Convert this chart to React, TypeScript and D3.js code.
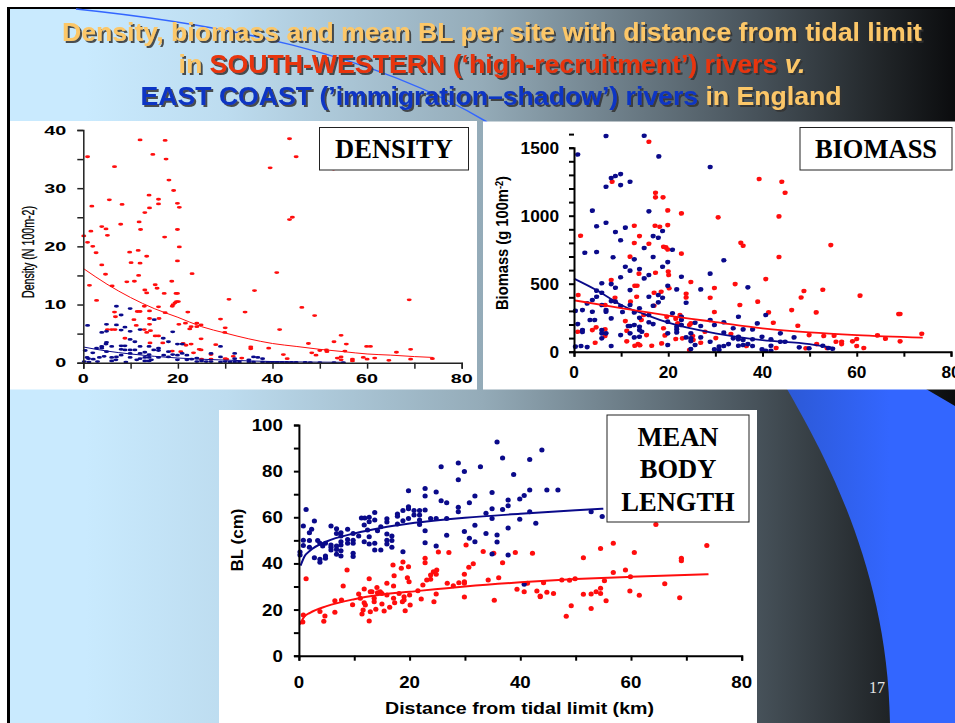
import * as d3 from "d3";
import { useEffect, useRef } from "react";

type Pt = [number, number];

const xTicks = [0, 10, 20, 30, 40, 50, 60, 70, 80];
const xLabels = [0, 20, 40, 60, 80];
const densityTicks = [0, 5, 10, 15, 20, 25, 30, 35, 40];
const densityLabels = [0, 10, 20, 30, 40];
const biomassTicks = d3.range(0, 1601, 100);
const biomassLabels = [0, 500, 1000, 1500];
const lengthTicks = [0, 10, 20, 30, 40, 50, 60, 70, 80, 90, 100];
const lengthLabels = [0, 20, 40, 60, 80, 100];

// values: [distance km, value]
const densityRed: Pt[] = [
  [0.1,21.8],[0.9,35.4],[0.9,20.7],[1.3,13.3],[1.8,26.9],[1.6,22.6],[2,20],[2.7,18.9],[2.8,10.7],[3.9,23.4],[3.9,16.8],[4.8,23],[4.7,15.2],[5.1,21.9],[5.5,28],[6.1,13.2],[6.6,33.7],[6.6,8.7],[6.8,7.9],[5.1,5.7],[6,5.7],[6.7,5.7],[7.9,23.8],[8.2,27.2],[8.8,4.2],[9.2,13.9],[9.8,19],[10.1,17.2],[10.8,14],[10.7,7.4],[11.2,6.4],[11.6,19.3],[11.7,15],[11.8,24.2],[12,38.3],[12.1,22.9],[12,17.1],[11.4,8.8],[12,8.8],[13,25.8],[13,12.5],[13.4,12],[13.4,18.3],[12.9,5.7],[13.4,5.2],[12.9,9.7],[13.9,28.8],[14,26.6],[14,8.9],[14,7.6],[14,6.6],[14.2,5.5],[14.1,3.4],[14.7,35.8],[15.2,13.4],[15.6,12.8],[15.2,4.6],[15.9,4.6],[15.9,28.1],[15.9,27.3],[15.9,9.6],[16,7.6],[16.8,3.4],[17.1,11.9],[17.2,21.6],[17.3,38.2],[17.5,35],[17.3,8.6],[18.1,31.4],[18.7,14],[19.1,29.6],[18.8,9.7],[19,10],[19.4,10.3],[19.7,10.5],[20.1,10.5],[19.6,11.9],[19.9,11.9],[19.9,27.4],[19.9,22.9],[20.3,26.7],[20.3,19.9],[19.9,17.5],[20.2,6.6],[20.6,1.9],[18.8,2],[21.1,3.3],[21.7,3],[21.6,6.8],[22.1,8.7],[22.5,5.8],[22.8,6.2],[23,15.3],[22.8,3.2],[23.3,1.7],[24,6.2],[24,6.8],[24.9,6.5],[24.9,4.1],[24.5,2.3],[24.9,2.2],[25,0.6],[27,1.4],[27,0.6],[28,3.1],[29,7.5],[30,6],[29.9,5.2],[30.8,10.9],[30,0.7],[30.3,0.6],[31.7,1.1],[33.5,0.8],[34.2,8.7],[35.4,2.7],[35.4,2.4],[36.2,12.4],[39.2,2.5],[39.5,33.5],[40.9,15.5],[41.5,5.7],[42.3,1.4],[43.1,0.7],[43.6,38.5],[43.6,24.6],[44.2,25],[45,35.4],[46.2,9.5],[47.6,3.3],[48.3,1.7],[48.9,8.1],[49.2,1.3],[50,2.1],[51.4,2.2],[51.5,1.9],[52.9,33.3],[53,3.6],[53.7,0.8],[54.5,1],[54.5,0.5],[54.5,4.7],[55.3,2],[55.6,3.2],[56.9,0.6],[56.9,0.3],[59.2,0.9],[59.9,2.8],[60,0.6],[60.7,2.8],[61.6,0.8],[64.6,0.4],[66.2,1.8],[68.9,10.8],[69.2,2.3],[69.2,0.6],[73.8,0.7],
];
const densityBlue: Pt[] = [
  [0.9,6.4],[0.4,2.1],[0.8,0.9],[1.1,0.7],[0.2,0.2],[1.2,0.1],[2,1.7],[2.1,0.6],[2.8,2.5],[3,0.2],[3.4,0.9],[3.9,5.2],[3.9,2.8],[3.9,2.5],[4.4,1.1],[4.9,6.6],[4.9,5.4],[4.9,3.5],[4.8,3.2],[4.9,1.9],[6,2.8],[6,0.9],[6,0.3],[7,9.7],[7,6.5],[7,1],[6.9,0.5],[8,8.2],[8,5.6],[8,2.9],[8.8,2.9],[8,2.3],[8.8,2.2],[8,1.3],[8.8,6.1],[9,0.1],[9.9,9.3],[9.9,5.4],[9.9,4],[9.9,2.2],[9.9,1.6],[9.9,0.9],[10.9,2.2],[10.9,3.6],[12,5.7],[12,2.8],[12,1.6],[12,0.7],[11.3,0.5],[13,1.8],[13,0.9],[13,0.3],[13.9,2.8],[13.9,1.4],[13.9,0.9],[13.9,0.3],[14.4,0.5],[15,7.4],[14.9,2.2],[15.9,2.5],[15.9,2.1],[15.9,0.9],[16.9,4.2],[17,1.3],[18,3.6],[18,1.9],[18,1],[18.9,5.3],[18.9,1.4],[19.9,3.2],[19.9,1.3],[19.9,0.5],[20.9,3.2],[20.9,1.6],[21.9,1.3],[21.9,0.5],[22.9,0.6],[24,0.8],[24,0.2],[25,0.3],[26,0.2],[27,1.6],[27,0.2],[29,2.8],[29,1],[29,0.1],[30,0.2],[31,0.1],[32,1.6],[32,0.7],[32,0.1],[33,0.1],[35,0.5],[35,0.1],[36,1],[36.9,0.9],[36,0.1],[37.9,0.7],[37.9,0.1],[39,0.05],[40,0.05],[41,0.05],[42,0.05],[43,0.05],[44,0.05],[45,0.05],[46.9,0.05],[48,0.03],[50,0.03],[53,0.03],[55,0.03],
];
const biomassRed: Pt[] = [
  [0.9,417],[0.8,147],[1.4,853],[4.5,66],[3.9,159],[4.7,179],[6.6,164],[6.6,115],[6.6,343],[7.9,527],[8.1,1250],[8.7,397],[10.9,225],[11.2,76],[11.2,154],[11.9,699],[12,368],[12.8,926],[12.8,799],[12.9,485],[13.4,485],[13.3,404],[12.9,44],[13.6,56],[14,47],[13.9,850],[13.8,574],[14.3,233],[14.8,270],[15.4,122],[15.9,1544],[15.9,794],[16.5,44],[17,434],[17.2,926],[17.3,1169],[17.3,1135],[17.3,581],[17,338],[18.2,919],[18.5,441],[18.6,61],[18.9,1135],[19,772],[19,172],[19.3,120],[19.5,767],[19.9,752],[19.7,257],[19.9,1039],[19.9,931],[20,590],[20.1,564],[20.2,466],[21.6,93],[21.6,243],[22,208],[22.5,270],[22.8,1017],[22.8,721],[23,98],[23.8,426],[23.8,399],[24.5,12],[24.5,196],[24.8,208],[24.8,512],[25.2,115],[25.3,86],[26.9,66],[27.8,147],[28.9,397],[29.8,468],[29.8,292],[30.1,100],[30.6,988],[33.3,130],[34.2,497],[35.4,801],[35.9,779],[35.2,343],[36.6,42],[39,368],[39.3,1270],[40.7,534],[41.3,289],[42.3,213],[42.9,27],[43.5,995],[43.5,696],[44.1,1250],[44.8,1169],[46.2,306],[47.5,191],[48.2,399],[48.8,446],[49.2,25],[49.9,122],[51.4,289],[51.5,56],[52.8,456],[53,115],[53.7,27],[54.5,784],[55.2,118],[55.6,73],[56.8,73],[56.8,56],[59.1,76],[60,93],[60,42],[60.7,412],[61.5,27],[64.4,120],[66.1,96],[68.9,277],[69.2,277],[69.2,76],[73.8,132],
];
const biomassBlue: Pt[] = [
  [0.8,1450],[0.3,300],[0.8,203],[0.3,37],[1.5,42],[1.8,306],[1.8,160],[1.8,145],[2.3,728],[2.8,34],[2.8,355],[3.4,233],[3.9,1037],[3.9,380],[3.9,294],[4.4,233],[4.8,733],[4.8,922],[4.8,449],[4.8,404],[5.9,503],[5.9,434],[5.9,343],[5.9,160],[5.9,135],[5.9,98],[6.8,1586],[6.8,1213],[6.8,948],[6.8,306],[6.8,294],[6.8,135],[7.9,1277],[7.9,497],[7.9,245],[7.9,42],[7.9,372],[8.8,1292],[8.3,694],[8.8,880],[8.8,470],[8.8,368],[9.9,1306],[9.9,1225],[9.9,819],[9.9,547],[9.9,336],[10.3,292],[9.9,122],[10.9,912],[10.9,625],[11.9,1250],[11.9,596],[11.9,453],[11.9,343],[11.5,189],[11.9,189],[11.9,135],[12.8,679],[12.8,289],[12.8,196],[12.8,105],[13.9,608],[13.9,319],[13.9,250],[13.9,184],[13.9,160],[13.9,110],[14.4,147],[14.9,1588],[14.9,762],[14.9,539],[15.9,1032],[15.9,564],[15.9,404],[15.9,270],[15.9,216],[16.8,850],[16.8,696],[16.8,338],[16.8,203],[18,1436],[17.9,838],[17.9,417],[17.9,363],[18.8,887],[18.8,625],[18.8,397],[19.9,659],[19.9,485],[19.9,221],[19.9,135],[19.9,49],[20.9,750],[20.9,282],[21.8,458],[21.8,184],[21.8,164],[21.8,142],[22.8,551],[22.8,257],[22.8,233],[22.8,196],[23.8,360],[23.8,105],[24.8,135],[24.8,98],[24.8,78],[24.8,20],[25.7,213],[25.7,49],[26.9,458],[26.9,189],[26.9,105],[28.9,1358],[28.9,574],[28.9,233],[28.9,73],[29.8,196],[29.8,17],[30.8,37],[30.8,12],[31.8,672],[31.8,216],[31.8,140],[31.8,42],[32.8,56],[33.8,172],[33.8,98],[34.9,257],[34.9,110],[34.9,91],[34.9,44],[35.9,164],[35.9,86],[35.9,49],[36.9,473],[36.9,56],[37.9,164],[37.9,91],[37.9,42],[38.9,208],[39.9,110],[39.9,17],[40.7,270],[40.7,7],[41.8,91],[41.8,44],[41.8,7],[43.8,135],[43.8,73],[44.8,73],[46.7,105],[47.8,32],[49.9,25],[52.8,44],[54,27],[54.9,22],
];
const lengthRed: Pt[] = [
  [0.7,14.6],[0.8,17.6],[1.3,33.4],[3.8,19.2],[4.7,17.2],[4.5,14.9],[6.5,18.8],[6.5,23.8],[7.7,24.1],[8,30.2],[8.7,37.1],[9.7,22.1],[10.8,26.7],[11.1,24.9],[11.4,18.1],[11.6,19.8],[11.8,28.9],[11.8,23],[12,22],[12.7,33.4],[12.9,27.7],[13.2,27.7],[12.7,15],[12.9,19.1],[13.6,24.9],[13.6,23.4],[13.9,20.1],[14.1,29.6],[14.2,27.3],[14.7,27.7],[15,27],[15,22.4],[15.4,19.4],[15.9,31.4],[15.9,26.3],[16.4,21],[17,39.3],[17.2,34.7],[17.1,30.2],[17.1,24.9],[17.3,23],[18.1,27],[18.5,37.9],[18.8,40.6],[19,25.6],[19,24.1],[18.7,23.4],[19.2,19.5],[19.6,33.8],[19.8,38.6],[19.9,32.1],[20,26.3],[20.1,22],[21.5,28.2],[22.1,24.6],[22.4,30.6],[22.8,42.2],[22.8,40.3],[23.1,32.8],[23.8,35],[23.8,33.1],[24.3,36.4],[24.4,23.4],[24.9,37.1],[24.8,35.3],[24.8,26.7],[25.2,44.9],[26.8,31.4],[27.1,44.7],[27.9,30.3],[28.9,31.6],[29.9,35.3],[29.9,32.1],[29.9,31.4],[29.9,25.4],[30.2,48],[30.7,38.3],[31.5,39.9],[33.3,45.2],[34.2,32.8],[35.2,44.4],[35.3,24],[36.1,33.8],[36.8,40.3],[39.1,44.7],[39.4,28.8],[40.7,27.7],[41.3,31.4],[42.2,44.4],[43,28],[43.6,25.9],[43.6,25.6],[44.2,31.6],[44.8,27.5],[46,27],[47.5,32.8],[48.3,17.1],[48.9,32.7],[49.2,21.7],[49.9,33.4],[51.4,42.5],[51.4,26.6],[52.8,26.7],[52.8,20.5],[53.7,27.7],[54.5,46.5],[54.5,29.2],[54.5,27],[55.2,32.5],[55.5,23.8],[56.8,48.7],[56.8,36.1],[59,37.1],[59.9,34.2],[59.8,28],[60.6,44.7],[61.5,26.2],[64.5,56.9],[66.1,31.2],[68.8,25.1],[69.1,42.2],[69.1,41.2],[73.7,47.8],
];
const lengthBlue: Pt[] = [
  [0.2,45],[0.2,43.6],[0.8,56.2],[0.8,50],[0.8,47.8],[1.3,63.4],[1.9,53.3],[1.9,49.9],[1.9,47],[2.3,54.8],[2.8,58.4],[2.8,42.5],[3.4,49.9],[3.8,48.7],[3.8,41.8],[3.8,40.5],[4.3,47.5],[4.8,48.7],[4.8,43.2],[4.8,42.2],[5.8,56.2],[5.8,48],[5.8,47],[5.8,45.8],[6.8,55],[6.8,53],[6.8,47.5],[6.8,46],[6.8,44],[7.6,53.3],[7.6,51.9],[7.6,49.4],[7.6,48],[7.6,45.5],[7.6,43.2],[8.8,54.8],[8.8,50.4],[8.8,48.7],[9.8,53],[9.8,50],[9.8,48.7],[9.8,44.4],[9.8,43],[10.8,51.9],[11.3,59.7],[11.9,59.7],[11.8,56.6],[11.8,49.4],[12.4,54.5],[12.7,60],[12.7,58.1],[12.7,51.6],[12.7,48.4],[13.7,62.1],[13.7,58.8],[13.7,48.7],[13.7,45.8],[14.2,54.2],[14.8,55.9],[14.8,45.8],[15.9,59.4],[15.9,57.9],[15.9,52.7],[15.9,50],[15.9,48.4],[16.8,51.9],[16.8,49.9],[16.8,47],[17.8,61.4],[17.8,60.5],[17.8,57.1],[18.8,62.9],[18.8,58.5],[18.8,45.1],[19.8,71.5],[19.8,64.6],[19.8,63.7],[19.8,59.5],[20.8,62.9],[20.8,61],[21.8,62.9],[21.8,61],[21.8,58.8],[21.8,56.9],[22.8,72.5],[22.8,69.2],[22.8,63.2],[22.8,54.2],[22.8,49],[23.8,59.5],[24.8,71],[24.8,59.5],[24.8,47.5],[25.7,81.9],[25.7,67.2],[26.7,66.3],[26.7,59.5],[26.7,52.2],[28.8,83.5],[28.8,76.3],[28.8,64.3],[28.8,62.4],[29.9,79.8],[29.9,53.8],[30.8,66.3],[30.8,50.9],[31.8,69.2],[31.8,56.5],[31.8,49.4],[32.8,81.9],[33.8,53],[33.8,61.7],[34.9,70.7],[34.9,63.7],[34.9,59.5],[34.9,44.1],[35.8,92.6],[35.8,52.3],[35.8,49.3],[36.8,85.7],[36.8,63.4],[37.8,67.5],[37.8,65],[37.8,55.3],[37.8,43.6],[38.8,78.5],[39.9,67.9],[39.9,59.1],[40.7,69.4],[40.7,31],[41.7,85],[41.7,71.8],[41.7,62.4],[42.8,57.4],[43.9,89.2],[44.8,71.8],[46.8,71.8],[52.8,62.4],[54.8,60.3],
];

// fitted curves, read at a few distances
const densityRedFit: Pt[] = [[0,16.2],[5,13.5],[10,11.2],[15,9.3],[20,7.8],[25,6.2],[30,5.1],[35,4.1],[40,3.3],[45,2.8],[50,2.3],[55,1.9],[60,1.5],[65,1.3],[70,1.05],[74,0.9]];
const densityBlueFit: Pt[] = [[0,2.7],[5,2],[10,1.5],[15,1.1],[20,0.8],[30,0.45],[40,0.2],[55,0.07]];
const biomassRedFit: Pt[] = [[0,378],[10,320],[20,265],[30,218],[40,172],[50,142],[60,122],[74,103]];
const biomassBlueFit: Pt[] = [[0,537],[5,448],[10,343],[15,275],[20,213],[30,135],[40,85],[50,56],[55,28]];
const lengthRedFit: Pt[] = [[0.2,13.5],[1,17],[2,18.6],[5,21.5],[10,24.5],[15,26.5],[20,27.7],[30,30],[40,31.8],[50,33.2],[60,34.2],[74,35.3]];
const lengthBlueFit: Pt[] = [[0.3,39],[1,43],[2,45.5],[5,49.5],[10,53],[15,55.5],[20,57.3],[30,59.8],[40,61.5],[50,63],[55,63.7]];

const RED = "#ff0d0d";
const NAVY = "#0a0a8a";

const App = () => {
  const ref = useRef<SVGGElement>(null);

  useEffect(() => {
    const root = d3.select(ref.current);
    root.selectAll("*").remove();

    const drawPanel = (o: any) => {
      const g = root.append("g");
      const x = d3.scaleLinear().domain([0, 80]).range(o.xRange);
      const y = d3.scaleLinear().domain(o.yDomain).range(o.yRange);
      const line = d3.line<Pt>().x((d) => x(d[0])).y((d) => y(d[1])).curve(d3.curveMonotoneX);

      const dots = (data: Pt[], color: string) => {
        g.append("g").selectAll("ellipse").data(data).enter().append("ellipse")
          .attr("cx", (d) => x(d[0]))
          .attr("cy", (d) => y(d[1]))
          .attr("rx", o.dot[0])
          .attr("ry", o.dot[1])
          .attr("fill", color);
      };
      dots(o.red, RED);
      dots(o.blue, NAVY);

      const fit = (data: Pt[], color: string) => {
        g.append("path").attr("d", line(data)).attr("fill", "none")
          .attr("stroke", color).attr("stroke-width", o.fitWidth);
      };
      fit(o.blueFit, NAVY);
      fit(o.redFit, RED);

      // axes: ticks from d3, labels added by hand so some can be skipped
      const xAxis = g.append("g").attr("transform", `translate(0,${o.yRange[0]})`)
        .call(d3.axisBottom(x).tickValues(xTicks).tickSize(o.tick).tickFormat(() => ""));
      const yAxis = g.append("g").attr("transform", `translate(${o.xRange[0]},0)`)
        .call(d3.axisLeft(y).tickValues(o.yTicks).tickSize(o.tick).tickFormat(() => ""));
      [xAxis, yAxis].forEach((a) => {
        a.selectAll("path").attr("stroke", o.axisColor).attr("stroke-width", o.axisWidth);
        a.selectAll("line").attr("stroke", o.axisColor).attr("stroke-width", o.axisWidth);
      });

      const label = (sel: any, perDigit: number) => {
        sel.attr("font-family", "'Liberation Sans', Arial, sans-serif")
          .attr("font-weight", "bold")
          .attr("font-size", o.tickFont)
          .attr("fill", "#000")
          .text((d: number) => d)
          .attr("textLength", (d: number) => String(d).length * perDigit)
          .attr("lengthAdjust", "spacingAndGlyphs");
      };
      g.append("g").selectAll("text").data(xLabels).enter().append("text")
        .attr("x", (d) => x(d)).attr("y", o.xLabelY).attr("text-anchor", "middle")
        .call(label, o.stretch);
      g.append("g").selectAll("text").data(o.yLabels).enter().append("text")
        .attr("x", o.xRange[0] - o.yLabelGap).attr("y", (d: number) => y(d) + o.yLabelDy).attr("text-anchor", "end")
        .call(label, o.stretch);
    };

    drawPanel({
      xRange: [83.3, 461.7], yDomain: [0, 40], yRange: [362.7, 130],
      red: densityRed, blue: densityBlue, redFit: densityRedFit, blueFit: densityBlueFit,
      dot: [2.5, 1.4], fitWidth: 1, tick: 6, axisColor: "#222", axisWidth: 1.5,
      yTicks: densityTicks, yLabels: densityLabels, tickFont: 12, stretch: 11,
      xLabelY: 383, yLabelGap: 17, yLabelDy: 4.5,
    });
    drawPanel({
      xRange: [574, 951], yDomain: [0, 1500], yRange: [351.7, 147.7],
      red: biomassRed, blue: biomassBlue, redFit: biomassRedFit, blueFit: biomassBlueFit,
      dot: [2.6, 2.3], fitWidth: 1.8, tick: 5, axisColor: "#000", axisWidth: 2,
      yTicks: biomassTicks, yLabels: biomassLabels, tickFont: 16, stretch: 9.6,
      xLabelY: 378, yLabelGap: 15, yLabelDy: 6,
    });
    drawPanel({
      xRange: [298.9, 741.7], yDomain: [0, 100], yRange: [655.7, 425],
      red: lengthRed, blue: lengthBlue, redFit: lengthRedFit, blueFit: lengthBlueFit,
      dot: [2.6, 2.5], fitWidth: 2, tick: 5, axisColor: "#000", axisWidth: 2,
      yTicks: lengthTicks, yLabels: lengthLabels, tickFont: 17, stretch: 10.4,
      xLabelY: 688, yLabelGap: 16, yLabelDy: 6,
    });
  }, []);

  const sans = "'Liberation Sans', Arial, sans-serif";
  const serif = "'Liberation Serif', 'Times New Roman', serif";
  const gold = "#fcc768";

  return (
    <svg width={955} height={723} style={{ position: "absolute", left: 0, top: 0, display: "block", background: "#fff" }}>
      <defs>
        <linearGradient id="bg" x1="0" x2="1" y1="0" y2="0">
          <stop offset="0" stopColor="#c9eafe" />
          <stop offset="0.08" stopColor="#c9eafe" />
          <stop offset="0.23" stopColor="#bddcef" />
          <stop offset="0.5" stopColor="#94abb8" />
          <stop offset="0.79" stopColor="#47525a" />
          <stop offset="0.93" stopColor="#1f2326" />
          <stop offset="1" stopColor="#0b0c0e" />
        </linearGradient>
        <linearGradient id="arcFill" gradientUnits="userSpaceOnUse" x1="787" x2="890" y1="0" y2="0">
          <stop offset="0" stopColor="#2c59d6" />
          <stop offset="1" stopColor="#3366ff" />
        </linearGradient>
        <filter id="shadow" x="-5%" y="-20%" width="110%" height="150%">
          <feDropShadow dx="2" dy="2" stdDeviation="0.6" floodColor="#333" floodOpacity="0.85" />
        </filter>
      </defs>

      <rect x={7} y={7} width={948} height={716} fill="#000" />
      <rect x={10} y={9} width={945} height={714} fill="url(#bg)" />
      <path d="M787,389 C825,455 888,570 890,723 L955,723 L955,406 L926,389 Z" fill="url(#arcFill)" />
      <path d="M76,9 C220,24 370,52 487,122" fill="none" stroke="#3366ff" strokeWidth={1.5} />

      <rect x={10} y={121} width={467} height={268.5} fill="#fff" />
      <rect x={483} y={121.5} width={472} height={268} fill="#fff" />
      <rect x={219} y={410} width={538} height={313} fill="#fff" />

      <g fontFamily={sans} fontWeight="bold" fontSize={26.5} textAnchor="middle" filter="url(#shadow)" fill={gold}>
        <text x={492} y={41} textLength={860} lengthAdjust="spacingAndGlyphs">Density, biomass and mean BL per site with distance from tidal limit</text>
        <text x={492} y={73} textLength={627} lengthAdjust="spacingAndGlyphs">
          in <tspan fill="#e8340c">SOUTH-WESTERN (‘high-recruitment’) rivers</tspan> <tspan fontStyle="italic">v.</tspan>
        </text>
        <text x={491} y={105} textLength={701} lengthAdjust="spacingAndGlyphs">
          <tspan fill="#0a35c4">EAST COAST (’immigration–shadow’) rivers</tspan> in England
        </text>
      </g>

      <g ref={ref} />

      <text transform="translate(34,252) rotate(-90)" textAnchor="middle" fontFamily={sans} fontSize={17} fill="#000" stroke="#000" strokeWidth={0.3} textLength={92} lengthAdjust="spacingAndGlyphs">Density (N 100m-2)</text>
      <text transform="translate(508,243) rotate(-90)" textAnchor="middle" fontFamily={sans} fontWeight="bold" fontSize={16} fill="#000" textLength={134} lengthAdjust="spacingAndGlyphs">
        Biomass (g 100m<tspan dy={-5} fontSize={10}>-2</tspan><tspan dy={5}>)</tspan>
      </text>
      <text transform="translate(243,540) rotate(-90)" textAnchor="middle" fontFamily={sans} fontWeight="bold" fontSize={17} fill="#000">BL (cm)</text>
      <text x={519.5} y={714} textAnchor="middle" fontFamily={sans} fontWeight="bold" fontSize={17} fill="#000" textLength={269} lengthAdjust="spacingAndGlyphs">Distance from tidal limit (km)</text>

      <g fontFamily={serif} fontWeight="bold" fill="#000" textAnchor="middle" fontSize={26.5}>
        <rect x={319.5} y={127.5} width={149} height={42.5} fill="#fff" stroke="#222" />
        <text x={394} y={158}>DENSITY</text>
        <rect x={800} y={127.5} width={152} height={42.5} fill="#fff" stroke="#222" />
        <text x={876} y={158}>BIOMASS</text>
        <rect x={607} y={415} width={142} height={107} fill="#fff" stroke="#222" />
        <text x={678} y={446}>MEAN</text>
        <text x={678} y={478}>BODY</text>
        <text x={678} y={511}>LENGTH</text>
      </g>

      <text x={877} y={693} textAnchor="middle" fontFamily={serif} fontSize={16} fill="#e6e6e6">17</text>
    </svg>
  );
};

export default App;
